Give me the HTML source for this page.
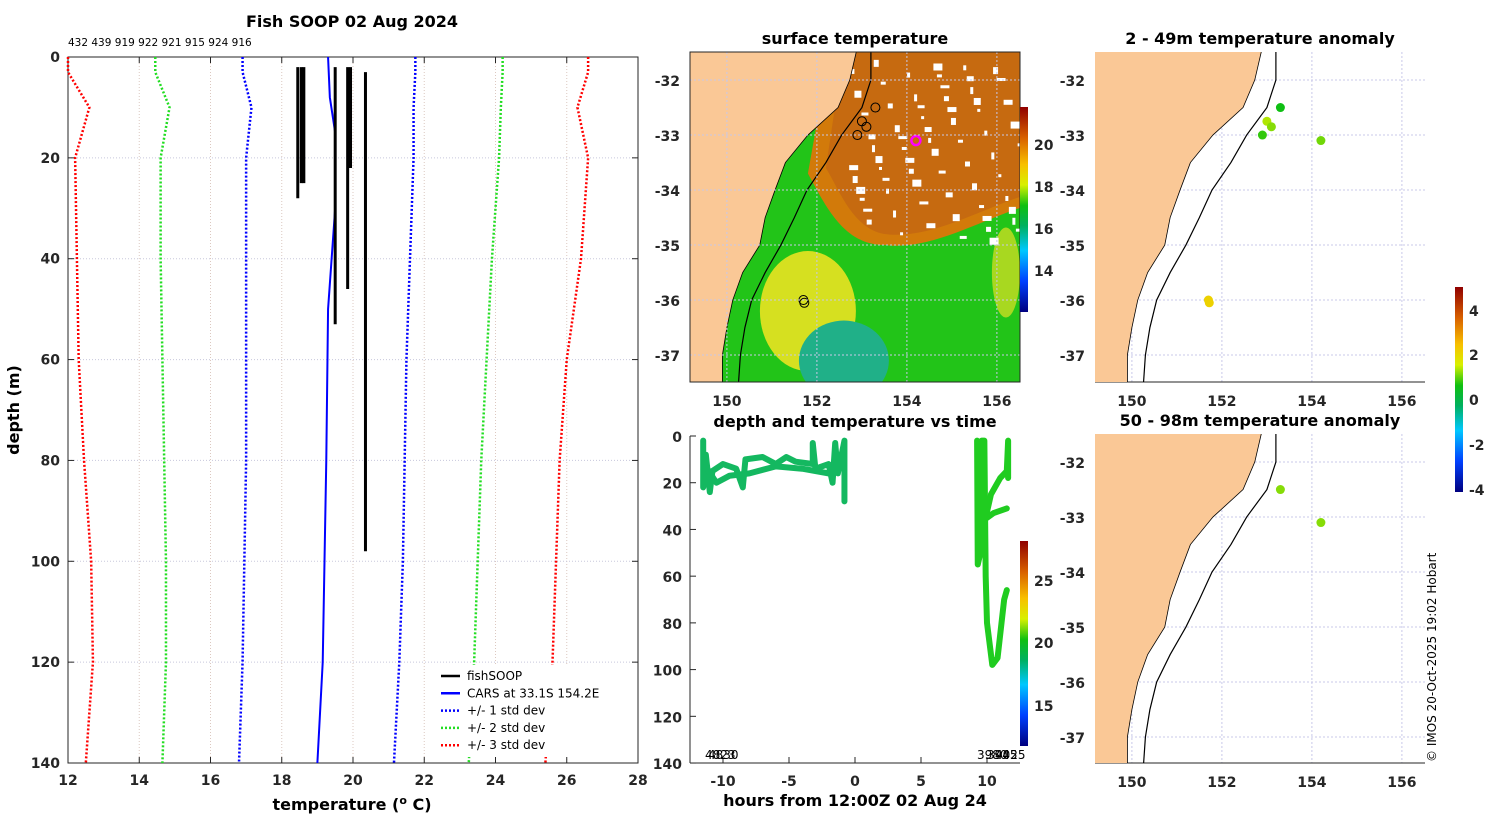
<!DOCTYPE html>
<html><head><meta charset="utf-8"><style>
body{margin:0;background:#fff;width:1500px;height:820px;overflow:hidden}
svg{font-family:"DejaVu Sans","Liberation Sans",sans-serif}
.t{font-weight:bold;font-size:14px;fill:#262626}
.ti{font-weight:bold;font-size:16px;fill:#000}
</style></head><body>
<svg id="s" width="1500" height="820" xmlns="http://www.w3.org/2000/svg">
<defs>
<linearGradient id="jet" x1="0" y1="1" x2="0" y2="0">
<stop offset="0" stop-color="#00007f"/><stop offset="0.15" stop-color="#0040ff"/><stop offset="0.3" stop-color="#00c8ff"/><stop offset="0.42" stop-color="#00b060"/><stop offset="0.52" stop-color="#10c010"/><stop offset="0.62" stop-color="#d8f000"/><stop offset="0.72" stop-color="#f8c000"/><stop offset="0.85" stop-color="#d86000"/><stop offset="1" stop-color="#900000"/>
</linearGradient>
<clipPath id="c1"><rect x="690" y="52" width="330" height="330"/></clipPath>
<clipPath id="c2"><rect x="1095" y="52" width="330" height="330"/></clipPath>
<clipPath id="c3"><rect x="1095" y="434" width="330" height="329"/></clipPath>
</defs>
</svg>
<script>
// ---- data ----
const stdDepths=[0,3,10,20,40,60,80,100,120,140];
const plus1=[21.75,21.75,21.7,21.7,21.6,21.5,21.45,21.4,21.3,21.15];
const minus1=[16.9,16.9,17.15,17.0,17.0,17.0,17.0,16.95,16.9,16.8];
const plus2=[24.2,24.2,24.15,24.1,23.9,23.75,23.6,23.5,23.4,23.25];
const minus2=[14.45,14.45,14.85,14.6,14.6,14.65,14.7,14.75,14.75,14.65];
const plus3=[26.6,26.6,26.3,26.6,26.4,26.0,25.8,25.7,25.6,25.4];
const minus3=[12.0,12.0,12.6,12.2,12.25,12.3,12.45,12.65,12.7,12.5];
const carsDepths=[0,8,15,30,50,80,100,120,140];
const carsTemp=[19.3,19.35,19.5,19.5,19.3,19.25,19.2,19.15,19.0];
const profTemp=[18.45,18.55,18.62,19.5,19.85,19.93,20.35];
const profTop=[2,2,2,2,2,2,3];
const profBot=[28,25,25,53,46,22,98];
const tickTemp=[12,14,16,18,20,22,24,26,28];
const tickDepth=[0,20,40,60,80,100,120,140];
const idLabels="432 439 919 922 921 915 924 916";
const tsHoursA=[-11.5,-11.5,-11.3,-11.0,-10.8,-10,-9,-8.5,-8.3,-7,-6,-5.2,-4.5,-3.2,-3.2,-3.0,-2,-1.7,-1.5,-1.3,-0.8,-0.8];
const tsDepthA=[2,22,8,24,15,12,14,22,10,9,12,9,11,12,3,14,12,20,3,16,2,28];
const tsHoursB=[-11.2,-10.5,-9.5,-8,-6,-4,-2,-1.3];
const tsDepthB=[14,20,17,16,13,14,16,14];
const tsHoursC=[9.25,9.3,9.5,9.6,9.8,9.9,10.0,10.4,10.8,11.3,11.5];
const tsDepthC=[2,55,50,2,2,60,80,98,95,70,66];
const tsHoursD=[9.9,10.3,11.0,11.5,11.6,11.6];
const tsDepthD=[35,25,18,15,2,18];
const tsHoursE=[10.0,10.5,11.5];
const tsDepthE=[35,33,31];
const coastLat=[-31.4,-32,-32.5,-33,-33.5,-34,-34.5,-35,-35.5,-36,-36.5,-37,-37.6];
const coastLon=[152.9,152.73,152.47,151.8,151.3,151.07,150.85,150.73,150.35,150.13,150.0,149.9,149.9];
const isoLon=[153.2,153.2,153.0,152.55,152.2,151.78,151.5,151.2,150.85,150.55,150.4,150.3,150.25];
const obsLon=[153.3,153.0,153.1,152.9,151.7,151.72];
const obsLat=[-32.5,-32.75,-32.85,-33.0,-36.0,-36.05];
const anomTop=[0.4,1.2,1.0,0.6,2.0,2.0];
const anomBotLon=[153.3,154.2];
const anomBotLat=[-32.5,-33.1];
const anomBot=[1.0,1.0];
const shipLon=[154.2], shipLat=[-33.1], shipAnom=[0.9];

const S=document.getElementById('s');const NS='http://www.w3.org/2000/svg';
function el(tag,attrs,parent,txt){const e=document.createElementNS(NS,tag);for(const k in attrs)e.setAttribute(k,attrs[k]);if(txt!==undefined)e.textContent=txt;(parent||S).appendChild(e);return e;}
function jet(v,lo,hi){const f=Math.max(0,Math.min(1,(v-lo)/(hi-lo)));const st=[[0,[0,0,127]],[.15,[0,64,255]],[.3,[0,200,255]],[.42,[0,176,96]],[.52,[16,192,16]],[.62,[216,240,0]],[.72,[248,192,0]],[.85,[216,96,0]],[1,[144,0,0]]];for(let i=1;i<st.length;i++){if(f<=st[i][0]){const a=st[i-1],b=st[i],t=(f-a[0])/(b[0]-a[0]);return 'rgb('+a[1].map((c,j)=>Math.round(c+(b[1][j]-c)*t)).join(',')+')';}}return 'rgb(144,0,0)';}

// ---- profile panel ----
const X0=68,X1=638,Y0=57,Y1=763;
const px=t=>X0+(t-12)/16*(X1-X0), py=d=>Y0+d/140*(Y1-Y0);
let g=el('g',{});
tickTemp.forEach(t=>{if(t>12&&t<28)el('line',{x1:px(t),x2:px(t),y1:Y0,y2:Y1,stroke:'#dcc8c0','stroke-dasharray':'1,2','stroke-width':1},g);});
tickDepth.forEach(d=>{if(d>0&&d<140)el('line',{x1:X0,x2:X1,y1:py(d),y2:py(d),stroke:'#c8c8dc','stroke-dasharray':'1,2','stroke-width':1},g);});
el('rect',{x:X0,y:Y0,width:X1-X0,height:Y1-Y0,fill:'none',stroke:'#262626','stroke-width':1},g);
tickTemp.forEach(t=>{el('line',{x1:px(t),x2:px(t),y1:Y1,y2:Y1-6,stroke:'#262626'},g);el('line',{x1:px(t),x2:px(t),y1:Y0,y2:Y0+6,stroke:'#262626'},g);const tx=el('text',{x:px(t),y:Y1+22,'text-anchor':'middle',class:'t'},g,t);});
tickDepth.forEach(d=>{el('line',{x1:X0,x2:X0+6,y1:py(d),y2:py(d),stroke:'#262626'},g);el('line',{x1:X1,x2:X1-6,y1:py(d),y2:py(d),stroke:'#262626'},g);const tx=el('text',{x:X0-8,y:py(d)+5,'text-anchor':'end',class:'t'},g,d);});
function line(xs,ds,col,dash,w,name){const p=el('polyline',{points:xs.map((t,i)=>px(t)+','+py(ds[i])).join(' '),fill:'none',stroke:col,'stroke-width':w,'stroke-dasharray':dash||''},g);}
line(plus3,stdDepths,'#ff0000','2,2',2.5,'plus-3-std');line(minus3,stdDepths,'#ff0000','2,2',2.5,'minus-3-std');
line(plus2,stdDepths,'#22dd22','2,2',2.5,'plus-2-std');line(minus2,stdDepths,'#22dd22','2,2',2.5,'minus-2-std');
line(plus1,stdDepths,'#0000ff','2,2',2.5,'plus-1-std');line(minus1,stdDepths,'#0000ff','2,2',2.5,'minus-1-std');
line(carsTemp,carsDepths,'#0000ff','',2,'cars-line');
profTemp.forEach((t,i)=>{const l=el('line',{x1:px(t),x2:px(t),y1:py(profTop[i]),y2:py(profBot[i]),stroke:'#000','stroke-width':3},g);});
el('text',{x:352,y:27,'text-anchor':'middle',class:'ti'},g,'Fish SOOP 02 Aug 2024');
el('text',{x:68,y:46,'font-size':'10.5px'},g,idLabels);
let xt=el('text',{x:352,y:810,'text-anchor':'middle',class:'ti'},g,'temperature (');
el('tspan',{dy:-6,'font-size':'11px'},xt,'o');el('tspan',{dy:6},xt,' C)');
el('text',{x:19,y:410,'text-anchor':'middle',class:'ti',transform:'rotate(-90 19 410)'},g,'depth (m)');
let lg=el('g',{},g);
el('rect',{x:435,y:665,width:178,height:92,fill:'#fff'},lg);
[['fishSOOP','#000',''],['CARS at 33.1S 154.2E','#0000ff',''],['+/- 1 std dev','#0000ff','2,2'],['+/- 2 std dev','#22dd22','2,2'],['+/- 3 std dev','#ff0000','2,2']].forEach((e,i)=>{const y=676+i*17.3;const eg=el('g',{},lg);el('line',{x1:441,x2:460,y1:y,y2:y,stroke:e[1],'stroke-width':2.5,'stroke-dasharray':e[2]},eg);el('text',{x:467,y:y+4,'font-size':'12px'},eg,e[0]);});

// ---- maps ----
function mapProj(x0,y0){return [lon=>x0+(lon-149.18)*45, lat=>y0+(-31.49-lat)*55];}
function coastPath(fx,fy){let d='M'+fx(148)+','+fy(-31.4);coastLat.forEach((la,i)=>d+=' L'+fx(coastLon[i])+','+fy(la));d+=' L'+fx(148)+','+fy(-37.6)+'Z';return d;}
function coastLine(fx,fy,lons){return coastLat.map((la,i)=>fx(lons[i])+','+fy(la)).join(' ');}
function mapAxes(gg,fx,fy,x0,y0,w,h,box){
 [150,152,154,156].forEach(lo=>{el('line',{x1:fx(lo),x2:fx(lo),y1:y0,y2:y0+h,stroke:'#c8c8e8','stroke-dasharray':'2,2'},gg);el('text',{x:fx(lo),y:y0+h+24,'text-anchor':'middle',class:'t','font-size':'15px'},gg,lo);});
 [-32,-33,-34,-35,-36,-37].forEach(la=>{el('line',{x1:x0,x2:x0+w,y1:fy(la),y2:fy(la),stroke:'#c8c8e8','stroke-dasharray':'2,2'},gg);el('text',{x:x0-10,y:fy(la)+6,'text-anchor':'end',class:'t','font-size':'15px'},gg,la);});
 if(box)el('rect',{x:x0,y:y0,width:w,height:h,fill:'none',stroke:'#262626'},gg);
 else el('line',{x1:x0,x2:x0+w,y1:y0+h,y2:y0+h,stroke:'#262626'},gg);
}
// SST map
{const [fx,fy]=mapProj(690,52);const gg=el('g',{});
const cg=el('g',{'clip-path':'url(#c1)'},gg);
el('rect',{x:690,y:52,width:330,height:330,fill:'#22c418'},cg);
el('path',{d:`M${fx(152.3)},${fy(-31.4)} L${fx(156.6)},${fy(-31.4)} L${fx(156.6)},${fy(-34.3)} C${fx(155.5)},${fy(-34.6)} ${fx(154.5)},${fy(-35.1)} ${fx(153.5)},${fy(-35.0)} C${fx(152.6)},${fy(-35.0)} ${fx(152.2)},${fy(-34.3)} ${fx(151.8)},${fy(-33.7)} Z`,fill:'#d27a0a'},cg);
el('path',{d:`M${fx(152.6)},${fy(-31.4)} L${fx(156.6)},${fy(-31.4)} L${fx(156.6)},${fy(-34.1)} C${fx(155.5)},${fy(-34.4)} ${fx(154.5)},${fy(-34.9)} ${fx(153.5)},${fy(-34.8)} C${fx(152.8)},${fy(-34.7)} ${fx(152.5)},${fy(-34.0)} ${fx(152.2)},${fy(-33.6)} Z`,fill:'#c66a10'},cg);
el('ellipse',{cx:fx(151.8),cy:fy(-36.2),rx:48,ry:60,fill:'#d6e020'},cg);
el('ellipse',{cx:fx(152.6),cy:fy(-37.1),rx:45,ry:40,fill:'#20b088'},cg);
el('ellipse',{cx:fx(156.2),cy:fy(-35.5),rx:14,ry:45,fill:'#a8d820'},cg);
for(let i=0;i<70;i++){const a=(i*37%100)/100,b=(i*61%100)/100;el('rect',{x:fx(152.6+a*3.9),y:fy(-31.6-b*3.3),width:3+(i%4)*2,height:3+(i%3)*2,fill:'#fff'},cg);}
el('path',{d:coastPath(fx,fy),fill:'#fac896',stroke:'#000','stroke-width':0.8},cg);
el('polyline',{points:coastLine(fx,fy,isoLon),fill:'none',stroke:'#000','stroke-width':1.2},cg);
obsLon.forEach((lo,i)=>el('circle',{cx:fx(lo),cy:fy(obsLat[i]),r:4.5,fill:'none',stroke:'#000','stroke-width':1},cg));
el('circle',{cx:fx(shipLon[0]),cy:fy(shipLat[0]),r:4.5,fill:'none',stroke:'#ff00ff','stroke-width':2.5},cg);
mapAxes(gg,fx,fy,690,52,330,330,true);
el('text',{x:855,y:44,'text-anchor':'middle',class:'ti'},gg,'surface temperature');
el('rect',{x:1020,y:107,width:8,height:205,fill:'url(#jet)'},gg);
[[20,145],[18,187],[16,229],[14,271]].forEach(a=>{el('text',{x:1034,y:a[1]+5,class:'t','font-size':'13px'},gg,a[0]);});
}
// anomaly maps
function anomMap(y0,title,lons,lats,vals,clip,name){const [fx,fy]=mapProj(1095,y0);const gg=el('g',{});
mapAxes(gg,fx,fy,1095,y0,330,y0===52?330:329,false);
const cg=el('g',{'clip-path':'url('+clip+')'},gg);
el('path',{d:coastPath(fx,fy),fill:'#fac896',stroke:'#000','stroke-width':0.8},cg);
el('polyline',{points:coastLine(fx,fy,isoLon),fill:'none',stroke:'#000','stroke-width':1.2},cg);
lons.forEach((lo,i)=>{const c=el('circle',{cx:fx(lo),cy:fy(lats[i]),r:4.5,fill:jet(vals[i],-4.5,5)},cg);});
el('text',{x:1260,y:y0-8,'text-anchor':'middle',class:'ti'},gg,title);}
anomMap(52,'2 - 49m temperature anomaly',obsLon.concat(shipLon),obsLat.concat(shipLat),anomTop.concat(shipAnom),'#c2','anomaly-map-top');
anomMap(434,'50 - 98m temperature anomaly',anomBotLon,anomBotLat,anomBot,'#c3','anomaly-map-bottom');
el('rect',{x:1455,y:287,width:8,height:205,fill:'url(#jet)'});
[[4,311],[2,355],[0,400],[-2,445],[-4,490]].forEach(a=>el('text',{x:1469,y:a[1]+5,class:'t','font-size':'12px'},S,a[0]));
el('text',{x:1436,y:762,'font-size':'12px',transform:'rotate(-90 1436 762)'},S,'© IMOS 20-Oct-2025 19:02 Hobart');

// ---- time series ----
{const gg=el('g',{});
const hx=h=>690+(h+12.5)*13.2, dy=d=>436+d*2.336;
el('line',{x1:690,x2:690,y1:436,y2:763,stroke:'#262626'},gg);el('line',{x1:690,x2:1020,y1:763,y2:763,stroke:'#262626'},gg);
[-10,-5,0,5,10].forEach(h=>{el('line',{x1:hx(h),x2:hx(h),y1:763,y2:757,stroke:'#262626'},gg);el('text',{x:hx(h),y:786,'text-anchor':'middle',class:'t','font-size':'15px'},gg,h);});
[0,20,40,60,80,100,120,140].forEach(d=>{el('line',{x1:690,x2:696,y1:dy(d),y2:dy(d),stroke:'#262626'},gg);el('text',{x:682,y:dy(d)+6,'text-anchor':'end',class:'t','font-size':'15px'},gg,d);});
[[tsHoursA,tsDepthA,'#14b860'],[tsHoursB,tsDepthB,'#14b860'],[tsHoursC,tsDepthC,'#20cc20'],[tsHoursD,tsDepthD,'#20cc20'],[tsHoursE,tsDepthE,'#20cc20']].forEach(s=>{const p=el('polyline',{points:s[0].map((h,i)=>hx(h)+','+dy(s[1][i])).join(' '),fill:'none',stroke:s[2],'stroke-width':6,'stroke-linejoin':'round','stroke-linecap':'round'},gg);});
el('text',{x:705,y:759,'font-size':'12px'},gg,'4823');el('text',{x:708,y:759,'font-size':'12px'},gg,'4830');
el('text',{x:977,y:759,'font-size':'12px'},gg,'3980');el('text',{x:987,y:759,'font-size':'12px'},gg,'3945');el('text',{x:995,y:759,'font-size':'12px'},gg,'4025');
el('text',{x:855,y:427,'text-anchor':'middle',class:'ti'},gg,'depth and temperature vs time');
el('text',{x:855,y:806,'text-anchor':'middle',class:'ti'},gg,'hours from 12:00Z 02 Aug 24');
el('rect',{x:1020,y:541,width:8,height:205,fill:'url(#jet)'},gg);
[[25,581],[20,643],[15,706]].forEach(a=>el('text',{x:1034,y:a[1]+5,class:'t','font-size':'13px'},gg,a[0]));
}
</script>
</body></html>
